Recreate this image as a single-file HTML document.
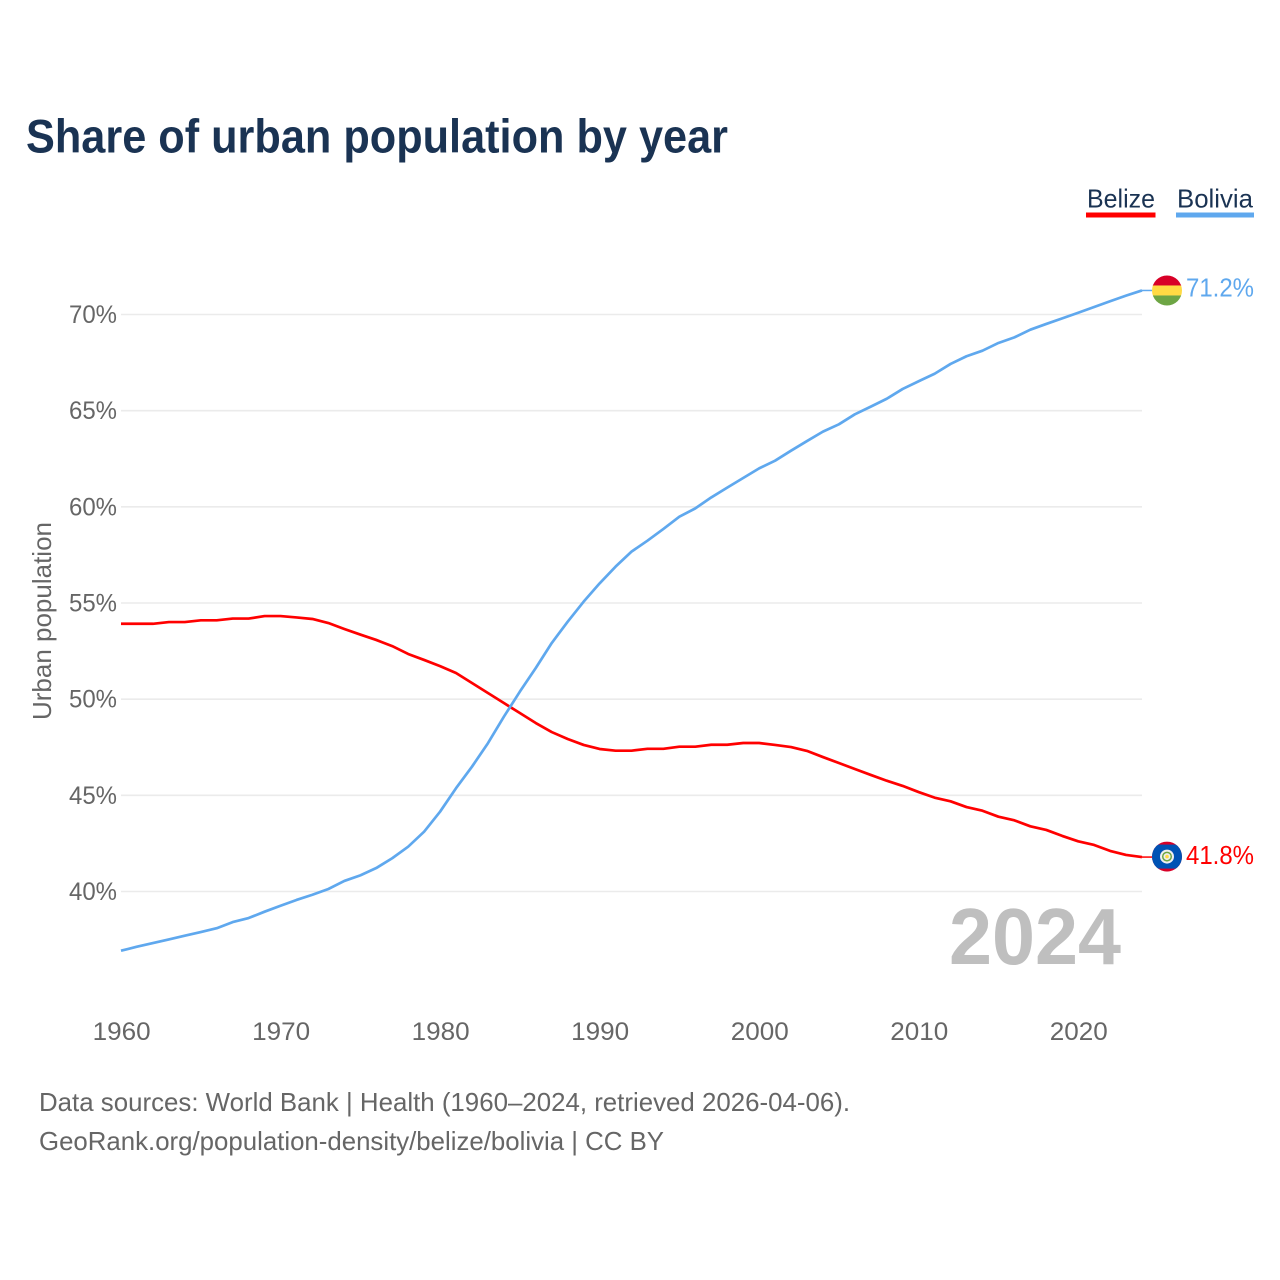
<!DOCTYPE html>
<html lang="en">
<head>
<meta charset="utf-8">
<title>Share of urban population by year</title>
<style>
  html, body { margin: 0; padding: 0; background: #ffffff; }
  svg { display: block; font-family: "Liberation Sans", sans-serif; }
</style>
</head>
<body>
<svg id="chart" xmlns="http://www.w3.org/2000/svg" width="1280" height="1280" viewBox="0 0 1280 1280">
  <rect x="0" y="0" width="1280" height="1280" fill="#ffffff"/>
  <text x="26" y="152.500" font-size="47" font-weight="700" fill="#1a3353" textLength="702" lengthAdjust="spacingAndGlyphs">Share of urban population by year</text>

  <g>
    <g>
      <text x="1087" y="207.500" font-size="26" fill="#1a3353" textLength="68" lengthAdjust="spacingAndGlyphs">Belize</text>
      <rect x="1086" y="212.500" width="69.500" height="5" fill="#ff0000"/>
    </g>
    <g>
      <text x="1177" y="207.500" font-size="26" fill="#1a3353" textLength="76" lengthAdjust="spacingAndGlyphs">Bolivia</text>
      <rect x="1176" y="212.500" width="78" height="5" fill="#5fa8ee"/>
    </g>
  </g>

  <g id="grid"></g>
  <g id="y-ticks"></g>
  <g id="x-ticks"></g>

  <text transform="translate(51,720) rotate(-90)" x="0" y="0" font-size="26" fill="#666666" textLength="198" lengthAdjust="spacingAndGlyphs">Urban population</text>

  <text x="949" y="964" font-size="80" font-weight="700" fill="#bfbfbf" textLength="172" lengthAdjust="spacingAndGlyphs">2024</text>

  <g id="series"></g>

  <defs>
    <clipPath id="clip-bolivia"><circle id="clip-bolivia-circle" cx="1167" cy="290" r="15"/></clipPath>
    <clipPath id="clip-belize"><circle id="clip-belize-circle" cx="1167" cy="857" r="15"/></clipPath>
  </defs>
  <g id="flag-bolivia" clip-path="url(#clip-bolivia)">
    <rect id="bo-r" x="1152" width="30" height="10.500" fill="#d80027"/>
    <rect id="bo-y" x="1152" width="30" height="10" fill="#ffda44"/>
    <rect id="bo-g" x="1152" width="30" height="10.500" fill="#6da544"/>
  </g>
  <g id="flag-belize" clip-path="url(#clip-belize)">
    <rect id="bz-r" x="1152" width="30" height="30" fill="#d80027"/>
    <rect id="bz-b" x="1152" width="30" height="24" fill="#0052b4"/>
    <circle id="bz-e1" cx="1167" r="7" fill="#f0f0f0"/>
    <circle id="bz-e2" cx="1167" r="5" fill="#6da544"/>
    <circle id="bz-e3" cx="1167" r="3.500" fill="#f0f0f0"/>
    <circle id="bz-e4" cx="1167" r="1.800" fill="#ffda44"/>
  </g>
  <g id="end-labels"></g>

  <text x="39" y="1111" font-size="26" fill="#666666" textLength="811" lengthAdjust="spacingAndGlyphs">Data sources: World Bank | Health (1960–2024, retrieved 2026-04-06).</text>
  <text x="39" y="1150" font-size="26" fill="#666666" textLength="625" lengthAdjust="spacingAndGlyphs">GeoRank.org/population-density/belize/bolivia | CC BY</text>
</svg>

<script>
const years = [1960,1961,1962,1963,1964,1965,1966,1967,1968,1969,1970,1971,1972,1973,1974,1975,1976,1977,1978,1979,1980,1981,1982,1983,1984,1985,1986,1987,1988,1989,1990,1991,1992,1993,1994,1995,1996,1997,1998,1999,2000,2001,2002,2003,2004,2005,2006,2007,2008,2009,2010,2011,2012,2013,2014,2015,2016,2017,2018,2019,2020,2021,2022,2023,2024];
const belize = [53.92,53.92,53.92,54.01,54.01,54.10,54.10,54.19,54.19,54.32,54.32,54.25,54.17,53.96,53.65,53.36,53.08,52.76,52.35,52.04,51.72,51.36,50.84,50.32,49.80,49.28,48.76,48.29,47.93,47.62,47.41,47.32,47.32,47.42,47.42,47.53,47.53,47.63,47.63,47.72,47.72,47.62,47.51,47.31,46.99,46.68,46.37,46.06,45.76,45.49,45.17,44.88,44.69,44.39,44.20,43.89,43.70,43.39,43.20,42.89,42.61,42.42,42.11,41.90,41.79];
const bolivia = [36.92,37.13,37.32,37.51,37.70,37.89,38.09,38.41,38.62,38.95,39.26,39.56,39.83,40.13,40.55,40.84,41.22,41.73,42.33,43.11,44.15,45.37,46.49,47.71,49.09,50.39,51.62,52.92,54.03,55.07,56.02,56.89,57.67,58.24,58.85,59.49,59.92,60.49,61.00,61.50,62.00,62.40,62.92,63.42,63.91,64.29,64.81,65.21,65.62,66.13,66.53,66.92,67.43,67.83,68.12,68.52,68.81,69.21,69.51,69.80,70.09,70.39,70.69,70.98,71.25];
const yTickValues = [40,45,50,55,60,65,70];
const xTickValues = [1960,1970,1980,1990,2000,2010,2020];
const belizeEndLabel = "41.8%";
const boliviaEndLabel = "71.2%";

const SVG_NS = "http://www.w3.org/2000/svg";
function xScale(year) { return 121 + (year - 1960) * (1142 - 121) / 64; }
function yScale(value) { return 891.5 - (value - 40) * 19.233; }
function make(tag, parent) {
  const el = document.createElementNS(SVG_NS, tag);
  parent.appendChild(el);
  return el;
}
function setAll(el, props) {
  for (const key in props) el.setAttribute(key, props[key]);
}

const gridGroup = document.getElementById("grid");
const yTickGroup = document.getElementById("y-ticks");
yTickValues.forEach(function (value) {
  const line = make("line", gridGroup);
  
  
  setAll(line, { x1: 121, x2: 1142, y1: yScale(value), y2: yScale(value), stroke: "#ebebeb", "stroke-width": 1.6 });
  const label = make("text", yTickGroup);
  
  
  setAll(label, { x: 69, y: yScale(value) + 8.5, "font-size": 25, fill: "#666666", textLength: 48, lengthAdjust: "spacingAndGlyphs" });
  label.textContent = value + "%";
});

const xTickGroup = document.getElementById("x-ticks");
xTickValues.forEach(function (year) {
  const label = make("text", xTickGroup);
  
  
  setAll(label, { x: xScale(year) - 28.4, y: 1040, "font-size": 25, fill: "#666666", textLength: 58, lengthAdjust: "spacingAndGlyphs" });
  label.textContent = year;
});

function linePath(values) {
  return values.map(function (v, i) {
    return (i ? "L" : "M") + xScale(years[i]).toFixed(2) + " " + yScale(v).toFixed(2);
  }).join(" ");
}
const seriesGroup = document.getElementById("series");

const belizeLine = make("path", seriesGroup);


setAll(belizeLine, { d: linePath(belize), fill: "none", stroke: "#ff0000", "stroke-width": 2.7, "stroke-linejoin": "round" });

const boliviaLine = make("path", seriesGroup);


setAll(boliviaLine, { d: linePath(bolivia), fill: "none", stroke: "#5fa8ee", "stroke-width": 2.7, "stroke-linejoin": "round" });

const belizeEndY = yScale(belize[belize.length - 1]);
const boliviaEndY = yScale(bolivia[bolivia.length - 1]);

const belizeLeader = make("line", seriesGroup);


setAll(belizeLeader, { x1: 1142, x2: 1152, y1: belizeEndY, y2: belizeEndY, stroke: "#ff0000", "stroke-width": 1.5 });

const boliviaLeader = make("line", seriesGroup);


setAll(boliviaLeader, { x1: 1142, x2: 1152, y1: boliviaEndY, y2: boliviaEndY, stroke: "#5fa8ee", "stroke-width": 1.5 });

document.getElementById("clip-bolivia-circle").setAttribute("cy", boliviaEndY);
document.getElementById("bo-r").setAttribute("y", boliviaEndY - 15);
document.getElementById("bo-y").setAttribute("y", boliviaEndY - 5);
document.getElementById("bo-g").setAttribute("y", boliviaEndY + 5);

const belizeFlagY = belizeEndY - 0.5;
document.getElementById("clip-belize-circle").setAttribute("cy", belizeFlagY);
document.getElementById("bz-r").setAttribute("y", belizeFlagY - 15);
document.getElementById("bz-b").setAttribute("y", belizeFlagY - 12);
["bz-e1", "bz-e2", "bz-e3", "bz-e4"].forEach(function (id) {
  document.getElementById(id).setAttribute("cy", belizeFlagY);
});

const endLabelGroup = document.getElementById("end-labels");

const belizeLabel = make("text", endLabelGroup);


setAll(belizeLabel, { x: 1186, y: belizeEndY + 7, "font-size": 26, fill: "#ff0000", textLength: 68, lengthAdjust: "spacingAndGlyphs" });
belizeLabel.textContent = belizeEndLabel;

const boliviaLabel = make("text", endLabelGroup);


setAll(boliviaLabel, { x: 1186, y: boliviaEndY + 6, "font-size": 26, fill: "#5fa8ee", textLength: 68, lengthAdjust: "spacingAndGlyphs" });
boliviaLabel.textContent = boliviaEndLabel;
</script>
</body>
</html>
